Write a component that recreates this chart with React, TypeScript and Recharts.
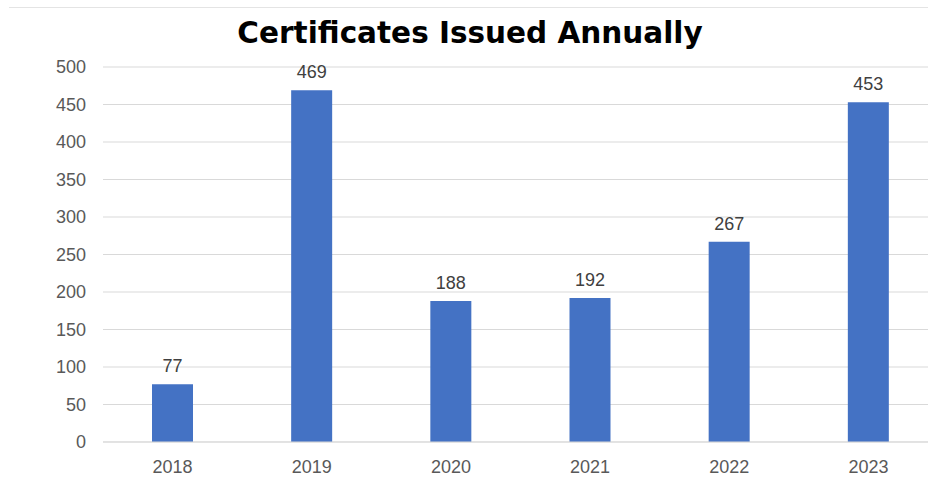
import React from 'react';
import { Bar, BarChart, CartesianGrid, LabelList, XAxis, YAxis } from 'recharts';

const years = ['2018', '2019', '2020', '2021', '2022', '2023'];
const certificates = [77, 469, 188, 192, 267, 453];
const yTicks = [0, 50, 100, 150, 200, 250, 300, 350, 400, 450, 500];

const data = years.map((year, i) => ({ year, certificates: certificates[i] }));

const tickFont = 'Liberation Sans, Arial, sans-serif';

const App: React.FC = () => {
  return (
    <div
      style={{
        position: 'absolute',
        left: 0,
        top: 0,
        width: 928,
        height: 502,
        overflow: 'hidden',
        background: '#fff',
      }}
    >
      <div
        style={{
          position: 'absolute',
          left: 9,
          top: 7,
          width: 919,
          borderTop: '1px solid #e4e4e4',
        }}
      />
      <div
        style={{
          position: 'absolute',
          left: 0,
          top: 14,
          width: 940,
          textAlign: 'center',
          fontFamily: 'DejaVu Sans, sans-serif',
          fontWeight: 700,
          fontSize: 29.5,
          color: '#000',
          lineHeight: '38px',
        }}
      >
        Certificates Issued Annually
      </div>
      <BarChart
        width={938}
        height={502}
        data={data}
        margin={{ top: 67, right: 0, bottom: 0, left: 0 }}
        style={{ position: 'absolute', left: 0, top: 0 }}
      >
        <CartesianGrid vertical={false} stroke="#d9d9d9" />
        <XAxis
          dataKey="year"
          height={60}
          axisLine={{ stroke: '#d9d9d9' }}
          tickLine={false}
          tickSize={0}
          tickMargin={18}
          tick={{ fill: '#595959', fontSize: 18, fontFamily: tickFont }}
        />
        <YAxis
          width={103}
          domain={[0, 500]}
          ticks={yTicks}
          axisLine={false}
          tickLine={false}
          tickSize={0}
          tickMargin={17}
          tick={{ fill: '#595959', fontSize: 18, fontFamily: tickFont }}
        />
        <Bar dataKey="certificates" fill="#4472c4" barSize={41} isAnimationActive={false}>
          <LabelList
            dataKey="certificates"
            position="top"
            offset={12}
            fill="#404040"
            fontSize={18}
            fontFamily={tickFont}
          />
        </Bar>
      </BarChart>
    </div>
  );
};

export default App;
